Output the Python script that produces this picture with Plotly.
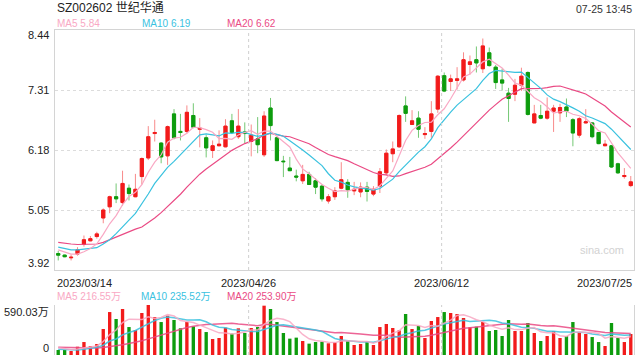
import plotly.graph_objects as go
import pandas as pd
import numpy as np

# ---------------- data ----------------
opens = [4.23, 4.20, 4.15, 4.22, 4.40, 4.47, 4.55, 4.90, 5.11, 5.30,
         5.19, 5.46, 5.30, 5.68, 6.03, 6.49, 6.31, 6.07, 6.86, 6.53,
         6.53, 6.83, 6.57, 6.41, 6.17, 6.26, 6.24, 6.73, 6.43, 6.52,
         6.34, 6.39, 6.09, 6.97, 6.41, 5.97, 5.84, 5.69, 5.60, 5.72,
         5.60, 5.50, 5.22, 5.30, 5.46, 5.57, 5.41, 5.39, 5.48, 5.35,
         5.50, 5.75, 6.11, 6.24, 7.01, 6.66, 6.78, 6.47, 6.53, 6.95,
         7.58, 7.47, 7.49, 7.50, 7.79, 7.88, 7.71, 8.01, 7.74, 7.50,
         7.25, 7.23, 7.40, 7.64, 6.69, 6.83, 6.78, 6.91, 6.88, 6.99,
         6.75, 6.46, 6.69, 6.69, 6.51, 6.26, 6.26, 5.92, 5.68, 5.51]
highs = [4.28, 4.21, 4.21, 4.35, 4.57, 4.56, 4.64, 5.08, 5.32, 5.55,
         5.79, 5.53, 5.73, 6.04, 6.63, 6.75, 6.33, 6.64, 6.95, 6.86,
         7.02, 7.06, 6.78, 6.46, 6.36, 6.55, 6.76, 6.86, 6.95, 6.70,
         6.66, 6.80, 6.91, 7.16, 6.44, 6.07, 6.05, 5.81, 5.90, 5.77,
         5.65, 5.53, 5.35, 5.48, 5.95, 5.63, 5.58, 5.57, 5.58, 5.50,
         5.84, 6.19, 6.34, 6.85, 7.19, 6.93, 6.91, 6.61, 7.10, 7.59,
         7.64, 7.60, 7.74, 8.02, 7.96, 8.13, 8.28, 8.11, 7.78, 7.71,
         7.35, 7.52, 7.73, 7.66, 7.03, 7.03, 7.17, 7.03, 7.05, 7.15,
         6.78, 6.80, 6.95, 6.70, 6.51, 6.37, 6.27, 5.94, 5.84, 5.69]
lows = [4.10, 4.16, 4.10, 4.19, 4.36, 4.46, 4.51, 4.80, 4.99, 5.18,
        5.13, 5.23, 5.29, 5.53, 5.99, 6.34, 5.93, 5.90, 6.38, 6.36,
        6.49, 6.59, 6.23, 6.04, 6.03, 6.25, 6.23, 6.48, 6.39, 6.31,
        6.06, 6.12, 6.05, 6.36, 5.97, 5.67, 5.79, 5.59, 5.54, 5.52,
        5.35, 5.21, 5.17, 5.24, 5.44, 5.28, 5.33, 5.29, 5.21, 5.31,
        5.37, 5.70, 5.95, 6.22, 6.71, 6.65, 6.41, 6.39, 6.41, 6.88,
        7.27, 7.29, 7.32, 7.47, 7.60, 7.64, 7.63, 7.75, 7.33, 7.30,
        6.71, 7.10, 7.29, 6.83, 6.69, 6.76, 6.75, 6.52, 6.71, 6.80,
        6.25, 6.41, 6.68, 6.40, 6.29, 6.26, 5.84, 5.73, 5.64, 5.48]
closes = [4.20, 4.17, 4.16, 4.30, 4.49, 4.51, 4.60, 5.05, 5.30, 5.26,
          5.55, 5.36, 5.44, 6.02, 6.43, 6.51, 6.05, 6.62, 6.41, 6.51,
          6.89, 6.61, 6.59, 6.22, 6.26, 6.29, 6.63, 6.51, 6.63, 6.49,
          6.46, 6.28, 6.82, 6.64, 5.98, 5.96, 5.79, 5.67, 5.72, 5.53,
          5.48, 5.26, 5.30, 5.41, 5.62, 5.43, 5.44, 5.48, 5.40, 5.44,
          5.77, 6.12, 6.20, 6.83, 6.87, 6.73, 6.57, 6.49, 6.86, 7.57,
          7.29, 7.52, 7.52, 7.88, 7.84, 7.82, 8.14, 7.77, 7.45, 7.44,
          7.15, 7.40, 7.57, 6.85, 6.86, 6.78, 6.91, 6.97, 6.98, 6.91,
          6.50, 6.77, 6.71, 6.43, 6.30, 6.29, 5.86, 5.75, 5.70, 5.58]
volumes = [59, 59, 47, 98, 153, 106, 130, 307, 507, 425,
           543, 330, 295, 496, 590, 448, 389, 464, 413, 315,
           389, 338, 307, 271, 189, 201, 323, 252, 315, 260,
           319, 330, 582, 543, 389, 260, 193, 205, 165, 134,
           153, 157, 138, 149, 224, 169, 118, 130, 157, 118,
           330, 366, 319, 291, 484, 307, 342, 201, 401, 448,
           507, 496, 484, 437, 327, 334, 389, 283, 295, 224,
           413, 283, 283, 378, 260, 165, 224, 283, 201, 224,
           389, 271, 248, 212, 153, 106, 378, 201, 153, 248]

# moving-average values before a full window exists
ma5_head = [4.30, 4.26, 4.22, 4.22]
ma10_head = [4.35, 4.32, 4.30, 4.30, 4.31, 4.32, 4.34, 4.41, 4.49]
ma20_head = [4.44, 4.42, 4.41, 4.40, 4.40, 4.40, 4.41, 4.44, 4.49, 4.55,
             4.60, 4.65, 4.69, 4.73, 4.81, 4.90, 5.00, 5.11, 5.22]
vma5_head = [86, 75, 66, 70]
vma10_head = [67, 63, 59, 60, 67, 75, 90, 115, 165]
vma20_head = [90, 88, 85, 82, 80, 80, 82, 88, 97, 108,
              120, 135, 150, 168, 190, 212, 235, 258, 285]

tick_labels = ["2023/03/14", "2023/04/26", "2023/06/12", "2023/07/25"]
tick_index = [0, 30, 60, 89]
price_ticks = [3.92, 5.05, 6.18, 7.31, 8.44]
vol_max = 590.03

title_text = "SZ002602 世纪华通"
time_text = "07-25 13:45"
ma_labels = ["MA5 5.84", "MA10 6.19", "MA20 6.62"]
vma_labels = ["MA5 216.55万", "MA10 235.52万", "MA20 253.90万"]

# ---------------- derived ----------------
n = len(closes)
x = list(range(n))


def ma(values, w, head):
    s = pd.Series(values, dtype=float).rolling(w).mean()
    s.iloc[:len(head)] = head
    return s.tolist()


ma5, ma10, ma20 = ma(closes, 5, ma5_head), ma(closes, 10, ma10_head), ma(closes, 20, ma20_head)
vma5, vma10, vma20 = ma(volumes, 5, vma5_head), ma(volumes, 10, vma10_head), ma(volumes, 20, vma20_head)

o = np.array(opens)
c = np.array(closes)
body_hi = np.maximum(o, c)
body_lo = np.minimum(o, c)

RED = "#f21b1b"
GREEN = "#0d9c0d"
RED_W = "#f88a8a"
GREEN_W = "#74c874"
C5 = "#f9a8c4"
C10 = "#3ac2df"
C20 = "#ea4a84"
FONT = "Liberation Sans, Arial, Noto Sans CJK SC, sans-serif"

fig = go.Figure()

# wicks
fig.add_trace(go.Candlestick(
    x=x, open=opens, high=highs, low=lows, close=closes,
    increasing=dict(line=dict(color=RED_W, width=1), fillcolor=RED_W),
    decreasing=dict(line=dict(color=GREEN_W, width=1), fillcolor=GREEN_W),
    whiskerwidth=0, xaxis="x", yaxis="y", showlegend=False, hoverinfo="skip"))
# bodies
fig.add_trace(go.Candlestick(
    x=x, open=opens, high=body_hi, low=body_lo, close=closes,
    increasing=dict(line=dict(color=RED, width=1), fillcolor=RED),
    decreasing=dict(line=dict(color=GREEN, width=1), fillcolor=GREEN),
    whiskerwidth=0, xaxis="x", yaxis="y", showlegend=False, hoverinfo="skip"))

for vals, col in [(ma20, C20), (ma10, C10), (ma5, C5)]:
    fig.add_trace(go.Scatter(x=x, y=vals, mode="lines", line=dict(color=col, width=1.2),
                             xaxis="x", yaxis="y", showlegend=False, hoverinfo="skip"))

vol_colors = [RED if cc >= oo else GREEN for oo, cc in zip(opens, closes)]
fig.add_trace(go.Bar(x=x, y=volumes, marker=dict(color=vol_colors, line=dict(width=0)),
                     width=0.52, xaxis="x2", yaxis="y2", showlegend=False, hoverinfo="skip"))
for vals, col in [(vma20, C20), (vma10, C10), (vma5, C5)]:
    fig.add_trace(go.Scatter(x=x, y=vals, mode="lines", line=dict(color=col, width=1.5),
                             opacity=0.85, xaxis="x2", yaxis="y2", showlegend=False, hoverinfo="skip"))

# ---------------- layout ----------------
W, H = 640, 360
L, R = 55, 634
main_top, main_bot = 30, 270
vol_top, vol_bot = 305, 355


def py(px):
    return (H - px) / H


xr = [-0.5, n - 0.5]
fig.update_layout(
    width=W, height=H, margin=dict(l=0, r=0, t=0, b=0),
    paper_bgcolor="white", plot_bgcolor="white",
    font=dict(family=FONT, color="#333333"),
    bargap=0.3,
    xaxis=dict(domain=[L / W, R / W], range=xr, showgrid=False, zeroline=False,
               showticklabels=False, showline=True, mirror=True, linecolor="#d4d4d4",
               rangeslider=dict(visible=False), anchor="y", fixedrange=True),
    yaxis=dict(domain=[py(main_bot), py(main_top)], range=[price_ticks[0], price_ticks[-1]],
               tickvals=price_ticks, showticklabels=False, showgrid=True,
               gridcolor="#dcdcdc", griddash="dot", gridwidth=1, zeroline=False,
               showline=True, mirror=True, linecolor="#d4d4d4", anchor="x", fixedrange=True),
    xaxis2=dict(domain=[L / W, R / W], range=xr, showgrid=False, zeroline=False,
                showticklabels=False, showline=False, anchor="y2", fixedrange=True),
    yaxis2=dict(domain=[py(vol_bot), py(vol_top)], range=[0, vol_max],
                tickvals=[0, vol_max], showticklabels=False, showgrid=True,
                gridcolor="#d4d4d4", griddash="dot", gridwidth=1, zeroline=False,
                showline=True, mirror=True, linecolor="#d4d4d4", anchor="x2", fixedrange=True),
)

# vertical dashed separators at the middle date ticks
shapes = []
for ti in tick_index[1:3]:
    xv = ti - 0.4
    for (ya, yb) in [(main_bot, main_top), (vol_bot, vol_top)]:
        shapes.append(dict(type="line", xref="x", yref="paper", x0=xv, x1=xv,
                           y0=py(ya), y1=py(yb), line=dict(color="#cfcfcf", width=1, dash="dot")))
fig.update_layout(shapes=shapes)

ann = []
# title and time
ann.append(dict(text=title_text, x=L / W, y=py(8), xref="paper", yref="paper",
                xanchor="left", yanchor="middle", showarrow=False,
                font=dict(size=12, color="#222222")))
ann.append(dict(text=time_text, x=R / W, y=py(9), xref="paper", yref="paper",
                xanchor="right", yanchor="middle", showarrow=False,
                font=dict(size=10.5, color="#333333")))
# MA legends
for txt, col, xp in zip(ma_labels, [C5, C10, C20], [55, 140, 225]):
    ann.append(dict(text=txt, x=xp / W, y=py(24), xref="paper", yref="paper",
                    xanchor="left", yanchor="middle", showarrow=False,
                    font=dict(size=10, color=col)))
for txt, col, xp in zip(vma_labels, [C5, C10, C20], [55, 139, 225]):
    ann.append(dict(text=txt, x=xp / W, y=py(296), xref="paper", yref="paper",
                    xanchor="left", yanchor="middle", showarrow=False,
                    font=dict(size=10, color=col)))
# price tick labels
for i, v in enumerate(price_ticks):
    shift = 7 if i == 0 else (-5 if i == len(price_ticks) - 1 else 0)
    ann.append(dict(text=f"{v:.2f}", x=51 / W, y=v, xref="paper", yref="y",
                    xanchor="right", yanchor="middle", yshift=shift, showarrow=False,
                    font=dict(size=11, color="#222222")))
# volume tick labels
ann.append(dict(text=f"{vol_max:.2f}万", x=51 / W, y=vol_max, xref="paper", yref="y2",
                xanchor="right", yanchor="middle", yshift=-7, showarrow=False,
                font=dict(size=11, color="#222222")))
ann.append(dict(text="0", x=51 / W, y=0, xref="paper", yref="y2",
                xanchor="right", yanchor="middle", yshift=7, showarrow=False,
                font=dict(size=11, color="#222222")))
# date labels
for j, (lab, ti) in enumerate(zip(tick_labels, tick_index)):
    if j == 0:
        xv, xa = -0.5, "left"
    elif j == len(tick_labels) - 1:
        xv, xa = n - 0.5, "right"
    else:
        xv, xa = ti - 0.4, "center"
    ann.append(dict(text=lab, x=xv, y=py(283), xref="x", yref="paper",
                    xanchor=xa, yanchor="middle", showarrow=False,
                    font=dict(size=11, color="#222222")))
# watermark
ann.append(dict(text="sina.com", x=602 / W, y=py(250), xref="paper", yref="paper",
                xanchor="center", yanchor="middle", showarrow=False,
                font=dict(size=11, color="#d2d2d2")))
fig.update_layout(annotations=ann)

fig.write_html("out.html", config={"displayModeBar": False},
               post_script="document.body.style.margin='0px';document.body.style.overflow='hidden';")
